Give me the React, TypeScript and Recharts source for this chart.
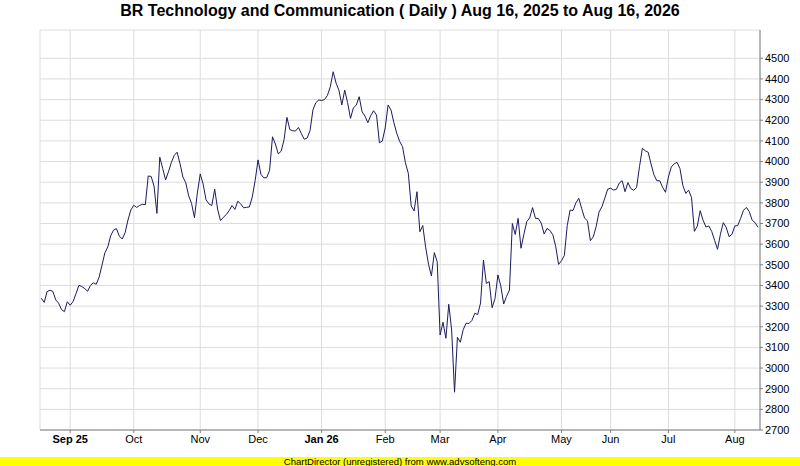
import { LineChart, Line, XAxis, YAxis, CartesianGrid } from 'recharts';

// daily closes, one per trading day, Aug 18 2025 .. Aug 14 2026
const closes = [
  3338, 3318, 3370, 3377, 3371, 3330, 3314, 3283, 3273, 3321,
  3304, 3322, 3360, 3400, 3395, 3385, 3372, 3400, 3413, 3406,
  3440, 3498, 3558, 3586, 3640, 3668, 3675, 3639, 3625, 3655,
  3717, 3766, 3788, 3778, 3787, 3793, 3791, 3930, 3928, 3882,
  3749, 4021, 3967, 3911, 3950, 3995, 4030, 4045, 3990, 3925,
  3897, 3834, 3797, 3728, 3848, 3940, 3891, 3815, 3795, 3787,
  3866, 3770, 3714, 3730, 3743, 3762, 3787, 3768, 3808, 3795,
  3776, 3778, 3780, 3828, 3908, 4008, 3938, 3921, 3922, 3958,
  4120, 4085, 4037, 4050, 4105, 4214, 4155, 4149, 4148, 4165,
  4135, 4108, 4114, 4150, 4250, 4285, 4298, 4296, 4300, 4320,
  4362, 4435, 4380, 4345, 4274, 4346, 4285, 4209, 4260, 4273,
  4314, 4241, 4220, 4188, 4223, 4246, 4225, 4091, 4099, 4163,
  4274, 4250, 4189, 4137, 4098, 4072, 3994, 3943, 3785, 3761,
  3854, 3660, 3690, 3585, 3502, 3446, 3559, 3515, 3160, 3222,
  3144, 3309, 3184, 2883, 3149, 3125, 3186, 3217, 3216, 3230,
  3265, 3259, 3315, 3523, 3410, 3418, 3292, 3337, 3451, 3398,
  3310, 3347, 3378, 3700, 3647, 3725, 3580, 3648, 3709, 3727,
  3777, 3725, 3724, 3702, 3649, 3676, 3666, 3646, 3589, 3502,
  3520, 3545, 3690, 3765, 3763, 3800, 3822, 3772, 3726, 3713,
  3617, 3635, 3685, 3756, 3781, 3823, 3866, 3871, 3862, 3865,
  3896, 3907, 3854, 3898, 3869, 3861, 3874, 3975, 4064, 4052,
  4045, 3988, 3936, 3907, 3907, 3875, 3851, 3925, 3974, 3989,
  3996, 3966, 3885, 3846, 3861, 3826, 3662, 3687, 3762, 3716,
  3683, 3688, 3661, 3618, 3575, 3648, 3704, 3681, 3636, 3648,
  3688, 3690, 3725, 3764, 3778, 3757, 3716, 3704, 3682,
];

// first trading day of each month, as index into closes
const monthStarts = [10, 32, 55, 75, 97, 119, 138, 158, 180, 197, 217, 240];
const monthLabels = ['Sep 25', 'Oct', 'Nov', 'Dec', 'Jan 26', 'Feb', 'Mar', 'Apr', 'May', 'Jun', 'Jul', 'Aug'];
const yearLabels = ['Sep 25', 'Jan 26'];

const priceTicks = [
  2700, 2800, 2900, 3000, 3100, 3200, 3300, 3400, 3500, 3600,
  3700, 3800, 3900, 4000, 4100, 4200, 4300, 4400, 4500,
];

const data = closes.map((close, day) => ({ day, close }));

const font = '"Liberation Sans", Arial, sans-serif';
const axisColor = '#808080';
const xDomain = [-0.45, 248.7];
const yDomain = [2700, 4637];

function MonthTick(props: any) {
  const { x, y, payload } = props;
  const label = monthLabels[monthStarts.indexOf(payload.value)] ?? '';
  return (
    <text
      x={x}
      y={y}
      dy="0.71em"
      textAnchor="middle"
      fontSize={11}
      fontFamily={font}
      fontWeight={yearLabels.includes(label) ? 'bold' : 'normal'}
      fill="#000"
    >
      {label}
    </text>
  );
}

export default function App() {
  return (
    <div style={{ position: 'absolute', left: 0, top: 0, width: 800, height: 466, background: '#fff', fontFamily: font }}>
      <div
        style={{
          position: 'absolute',
          top: 1,
          left: 0,
          width: 800,
          textAlign: 'center',
          fontSize: 16,
          lineHeight: '19px',
          fontWeight: 'bold',
          color: '#000',
        }}
      >
        BR Technology and Communication ( Daily ) Aug 16, 2025 to Aug 16, 2026
      </div>
      <LineChart width={800} height={466} data={data} margin={{ top: 30, right: 0, left: 40, bottom: 0 }}>
        <CartesianGrid stroke="#dcdcdc" />
        <XAxis
          dataKey="day"
          type="number"
          domain={xDomain}
          ticks={monthStarts}
          interval={0}
          height={36}
          tickSize={3}
          tickMargin={2}
          allowDataOverflow
          axisLine={{ stroke: axisColor }}
          tickLine={{ stroke: axisColor }}
          tick={<MonthTick />}
        />
        <XAxis
          xAxisId="top"
          orientation="top"
          dataKey="day"
          type="number"
          domain={xDomain}
          height={0}
          tick={false}
          tickLine={false}
          allowDataOverflow
          axisLine={{ stroke: axisColor }}
        />
        <YAxis
          orientation="right"
          type="number"
          domain={yDomain}
          ticks={priceTicks}
          interval={0}
          width={40}
          tickSize={3}
          tickMargin={2}
          allowDataOverflow
          axisLine={{ stroke: axisColor }}
          tickLine={{ stroke: axisColor }}
          tick={{ fontSize: 11, fontFamily: font, fill: '#000' }}
        />
        <YAxis
          yAxisId="left"
          orientation="left"
          type="number"
          domain={yDomain}
          width={0}
          tick={false}
          tickLine={false}
          allowDataOverflow
          axisLine={{ stroke: axisColor }}
        />
        <Line
          type="linear"
          dataKey="close"
          stroke="#1b1b5e"
          strokeWidth={1}
          dot={false}
          isAnimationActive={false}
        />
      </LineChart>
      <div
        style={{
          position: 'absolute',
          top: 457,
          left: 0,
          width: 800,
          height: 9,
          overflow: 'hidden',
          background: '#ffff00',
          textAlign: 'center',
          fontSize: 9.5,
          lineHeight: '9px',
          color: '#000',
        }}
      >
        ChartDirector (unregistered) from www.advsofteng.com
      </div>
    </div>
  );
}
